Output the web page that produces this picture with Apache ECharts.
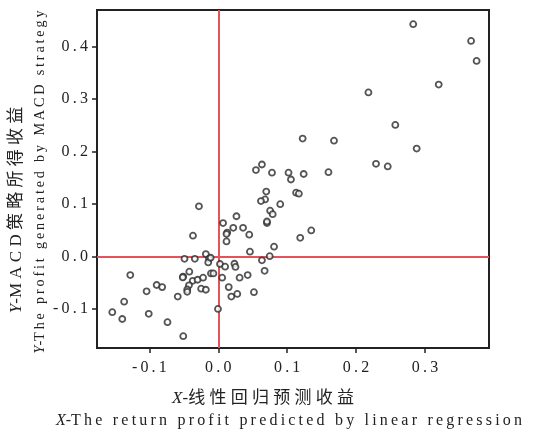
<!DOCTYPE html>
<html><head><meta charset="utf-8">
<script src="https://cdn.jsdelivr.net/npm/echarts@6/dist/echarts.min.js"></script>
<style>html,body{margin:0;padding:0;background:#fff}#c{width:537px;height:433px}</style>
</head><body><div id="c"></div>
<script>
var xValues = [0.283,0.367,0.375,0.320,0.218,0.257,0.1225,0.168,0.288,0.229,
  0.246,0.102,0.1055,0.124,0.160,0.113,0.117,0.090,0.135,0.119,
  -0.028,-0.0367,0.007,0.0264,0.0218,0.013,0.012,0.012,0.036,0.045,
  0.0547,0.0634,0.078,0.0697,0.068,0.062,0.0753,0.079,0.0707,0.0707,
  0.081,0.046,0.0747,0.0634,0.0673,-0.049,-0.034,-0.018,-0.0135,-0.0145,
  -0.011,0.0025,0.010,0.0235,0.025,-0.1277,-0.042,-0.051,-0.0515,-0.037,
  -0.030,-0.022,-0.0106,-0.007,0.0057,0.031,0.0427,-0.0894,-0.0814,-0.104,
  -0.0425,-0.045,-0.045,-0.0248,-0.018,0.0152,-0.0588,0.019,0.0276,0.0518,
  -0.1366,-0.1538,-0.1393,-0.1009,-0.0737,-0.0004,-0.0508];
var yValues = [0.443,0.411,0.373,0.328,0.313,0.251,0.225,0.221,0.206,0.177,
  0.172,0.160,0.147,0.1575,0.161,0.122,0.120,0.100,0.050,0.036,
  0.096,0.040,0.064,0.077,0.055,0.046,0.043,0.029,0.055,0.042,
  0.165,0.1756,0.160,0.124,0.109,0.106,0.0876,0.081,0.064,0.067,
  0.019,0.0095,0.001,-0.007,-0.027,-0.004,-0.004,0.005,-0.004,-0.011,
  -0.002,-0.014,-0.019,-0.0135,-0.0195,-0.035,-0.0286,-0.038,-0.0395,-0.046,
  -0.044,-0.040,-0.032,-0.032,-0.040,-0.040,-0.035,-0.054,-0.058,-0.066,
  -0.0545,-0.0625,-0.067,-0.061,-0.063,-0.058,-0.076,-0.076,-0.071,-0.0676,
  -0.0857,-0.1057,-0.1187,-0.1088,-0.1248,-0.0996,-0.1514];
var xTicks = [-0.1, 0.0, 0.1, 0.2, 0.3];
var yTicks = [-0.1, 0.0, 0.1, 0.2, 0.3, 0.4];
var yTitleCn = 'MACD策略所得收益';
var yTitleEn = 'The profit generated by MACD strategy';
var xTitleCn = '线性回归预测收益';
var xTitleEn = 'The return profit predicted by linear regression';

function spaced(s, sep) { return s.split('').join(sep); }
var points = xValues.map(function (x, i) { return [x, yValues[i]]; });
var serif = '"Liberation Serif","Noto Sans CJK SC",serif';
var tickFmt = function (v) { return spaced(Number(v).toFixed(1), '\u2009'); };
function titleText(x, y, rot, italic, body, size) {
  return {type: 'text', x: x, y: y, rotation: rot, z: 10,
    style: {text: '{i|' + italic + '}-' + body, fill: '#222', font: size + 'px ' + serif, align: 'center', verticalAlign: 'middle',
      rich: {i: {fontStyle: 'italic', fontFamily: serif, fontSize: size, fill: '#222'}}}};
}

var chart = echarts.init(document.getElementById('c'), null, {renderer: 'canvas'});
chart.setOption({
  animation: false,
  backgroundColor: '#fff',
  grid: {left: 97, right: 48, top: 10, bottom: 85, show: true, borderColor: '#222', borderWidth: 2, backgroundColor: 'transparent'},
  xAxis: {
    type: 'value', min: -0.176, max: 0.393,
    axisLine: {show: true, onZero: false, lineStyle: {color: '#222', width: 2}},
    axisTick: {show: true, length: 5, lineStyle: {color: '#222', width: 1.5}, customValues: xTicks},
    axisLabel: {customValues: xTicks, formatter: tickFmt, color: '#222', fontFamily: serif, fontSize: 16, margin: 12},
    splitLine: {show: false}
  },
  yAxis: {
    type: 'value', min: -0.174, max: 0.470,
    axisLine: {show: true, onZero: false, lineStyle: {color: '#222', width: 2}},
    axisTick: {show: true, length: 5, lineStyle: {color: '#222', width: 1.5}, customValues: yTicks},
    axisLabel: {customValues: yTicks, formatter: tickFmt, color: '#222', fontFamily: serif, fontSize: 16, margin: 9},
    splitLine: {show: false}
  },
  series: [{
    type: 'scatter',
    data: points,
    symbol: 'circle',
    symbolSize: 6,
    itemStyle: {color: '#fff', borderColor: '#2a2a2a', borderWidth: 1.8},
    z: 3,
    markLine: {
      silent: true,
      symbol: ['none', 'none'],
      label: {show: false},
      lineStyle: {color: '#e5535a', width: 2, type: 'solid'},
      z: 2,
      data: [{yAxis: 0}, {xAxis: 0}]
    }
  }],
  graphic: [
    titleText(17, 210, Math.PI / 2, 'Y', spaced(yTitleCn, ' '), 17),
    titleText(40, 182, Math.PI / 2, 'Y', spaced(yTitleEn, '\u2009'), 14.2),
    titleText(263, 399, 0, 'X', spaced(xTitleCn, ' '), 17),
    titleText(289, 421, 0, 'X', spaced(xTitleEn, '\u2009'), 16)
  ]
});
</script></body></html>
